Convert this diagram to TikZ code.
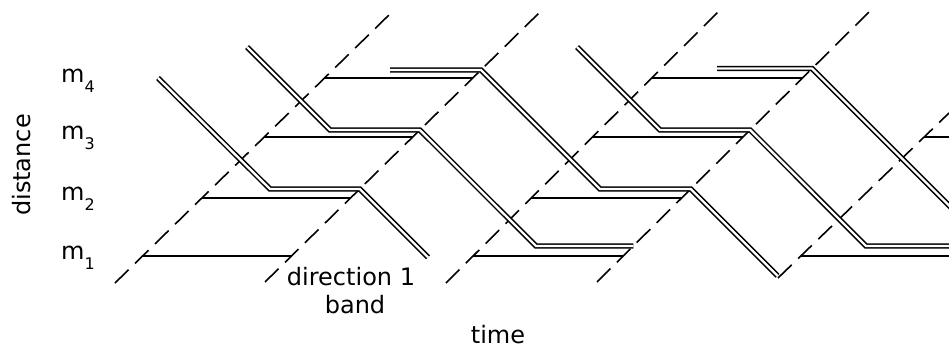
\documentclass[tikz,border=0pt]{standalone}
\usepackage{fontspec}
\setmainfont{DejaVu Sans}
\begin{document}
\begin{tikzpicture}[x=1pt,y=-1pt,
  dashln/.style={line width=1.6pt, dash pattern=on 19pt off 9pt},
  sgl/.style={line width=1.9pt},
  dbl/.style={double, double distance=2.4pt, line width=1.5pt},
  word/.style={inner sep=0pt, font=\fontsize{24}{24}\selectfont},
  mlab/.style={inner sep=0pt, anchor=base west, font=\fontsize{24}{24}\selectfont}]
\useasboundingbox (0,0) rectangle (949,349);
% direction-1 band boundaries (dashed)
\coordinate (d1b) at (115,283); \coordinate (d1t) at (392,12);
\coordinate (d2b) at (265,282); \coordinate (d2t) at (540,12);
\coordinate (d3b) at (446,283); \coordinate (d3t) at (718,12);
\coordinate (d4b) at (597,282); \coordinate (d4t) at (872,9);
\coordinate (d5b) at (778,278); \coordinate (d5t) at (949,113);
\foreach \k in {1,...,5} {\draw[dashln] (d\k b) -- (d\k t);}
% single lines across the bands at each signal
\draw[sgl] (142.6,256) -- (291.5,256);
\draw[sgl] (201.9,198) -- (350.6,198);
\draw[sgl] (264.2,137) -- (412.7,137);
\draw[sgl] (324.5,78) -- (472.8,78);
\draw[sgl] (473.1,256) -- (623.2,256);
\draw[sgl] (531.3,198) -- (681.6,198);
\draw[sgl] (592.5,137) -- (743.1,137);
\draw[sgl] (651.8,78) -- (802.5,78);
\draw[sgl] (800.8,256) -- (952,256);
\draw[sgl] (924.1,137) -- (952,137);
% opposite-direction trajectories (double lines)
\draw[dbl] (158,78) -- (270,189) -- (359.7,189) -- (428,257.3);
\draw[dbl] (247,47) -- (330,130) -- (419.8,130) -- (536,246) -- (633.3,246);
\draw[dbl] (577,47) -- (660,130) -- (750.1,130) -- (866,246) -- (952,246);
\draw[dbl] (390,70) -- (481,70) -- (600,189) -- (690.7,189) -- (777.5,275.8);
\draw[dbl] (717,68.5) -- (812,68.5) -- (952,208.5);
% labels
\node[mlab] (m4) at (61,82) {m\raisebox{-10pt}{\fontsize{16}{16}\selectfont 4}};
\node[mlab] (m3) at (61,139) {m\raisebox{-10pt}{\fontsize{16}{16}\selectfont 3}};
\node[mlab] (m2) at (61,200) {m\raisebox{-10pt}{\fontsize{16}{16}\selectfont 2}};
\node[mlab] (m1) at (61,259) {m\raisebox{-10pt}{\fontsize{16}{16}\selectfont 1}};
\node[word, rotate=90] (dist) at (22,165) {distance};
\node[word, anchor=base] (dir) at (351,285) {direction 1};
\node[word, anchor=base] (band) at (355,313) {band};
\node[word, anchor=base] (time) at (498,343) {time};
\end{tikzpicture}
\end{document}
